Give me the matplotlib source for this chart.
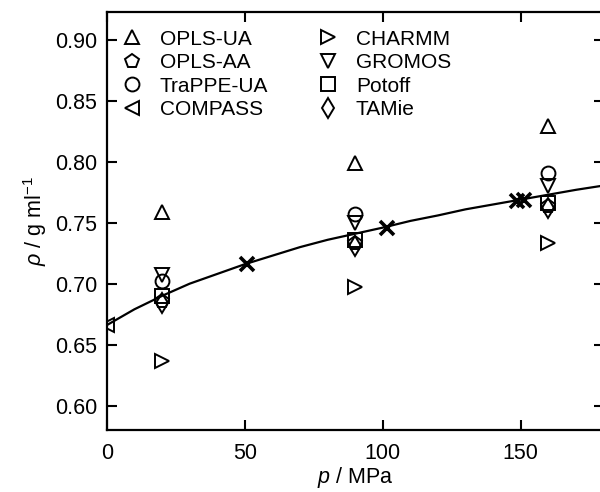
import matplotlib
matplotlib.use('Agg')
import matplotlib.pyplot as plt

plt.rcParams['font.family'] = ['Liberation Sans', 'DejaVu Sans']
plt.rcParams['mathtext.fontset'] = 'custom'
plt.rcParams['mathtext.rm'] = 'Liberation Sans'
plt.rcParams['mathtext.it'] = 'Liberation Sans:italic'

# simulated densities at 20, 90, 160 MPa
p_sim = [20, 90, 160]
opls_ua = [0.759, 0.799, 0.829]
opls_aa = [0.686, 0.733, 0.764]
trappe = [0.702, 0.757, 0.791]
charmm = [0.637, 0.697, 0.733]
gromos = [0.707, 0.750, 0.780]
potoff = [0.690, 0.736, 0.766]
tamie = [0.684, 0.731, 0.762]
p_compass = [0.1]
compass = [0.666]

# experimental points
p_exp = [50.7, 101.5, 148.5, 151.0]
rho_exp = [0.716, 0.746, 0.768, 0.769]

p_fit = [0, 10, 20, 30, 40, 50, 60, 70, 80, 90, 100, 110, 120, 130, 140, 150, 160, 170, 180]
rho_fit = [0.666, 0.679, 0.690, 0.700, 0.708, 0.716, 0.723, 0.730, 0.736, 0.741, 0.746,
           0.7515, 0.756, 0.761, 0.765, 0.769, 0.773, 0.777, 0.7805]

fig = plt.figure(figsize=(6, 4.92), dpi=100)
ax = fig.add_axes([0.178, 0.126, 0.828, 0.850])

ax.plot(p_fit, rho_fit, color='black', lw=1.6, zorder=2)
ax.plot(p_exp, rho_exp, 'x', color='black', ms=10, mew=2.6, zorder=3)

mk = dict(ls='none', mfc='none', mec='black', ms=10, mew=1.4, zorder=4)
h1, = ax.plot(p_sim, opls_ua, '^', label='OPLS-UA', **mk)
h2, = ax.plot(p_sim, opls_aa, 'p', label='OPLS-AA', **mk)
h3, = ax.plot(p_sim, trappe, 'o', label='TraPPE-UA', **mk)
h4, = ax.plot(p_compass, compass, '<', label='COMPASS', **mk)
h5, = ax.plot(p_sim, charmm, '>', label='CHARMM', **mk)
h6, = ax.plot(p_sim, gromos, 'v', label='GROMOS', **mk)
h7, = ax.plot(p_sim, potoff, 's', label='Potoff', **mk)
h8, = ax.plot(p_sim, tamie, 'd', label='TAMie', **mk)

ax.set_xlim(0, 180)
ax.set_ylim(0.58, 0.923)
ax.set_xticks([0, 50, 100, 150])
ax.set_yticks([0.60, 0.65, 0.70, 0.75, 0.80, 0.85, 0.90])
ax.set_yticklabels(['0.60', '0.65', '0.70', '0.75', '0.80', '0.85', '0.90'])
ax.tick_params(direction='in', length=7, width=1.5, labelsize=15.5,
               top=True, right=True, pad=7)
ax.tick_params(axis='x', pad=9)
for s in ax.spines.values():
    s.set_linewidth(1.6)

ax.set_xlabel(r'$p$ / MPa', fontsize=15.5, labelpad=1)
ax.set_ylabel(r'$\rho$ / g ml$^{-1}$', fontsize=15.5, labelpad=4)

ax.legend(handles=[h1, h2, h3, h4, h5, h6, h7, h8], ncol=2, frameon=False,
          loc='upper left', bbox_to_anchor=(0.0, 0.99), fontsize=15,
          labelspacing=0.22, handletextpad=0.8, columnspacing=2.3,
          borderaxespad=0.25, handlelength=1.1)

fig.savefig('out.png', dpi=100)
